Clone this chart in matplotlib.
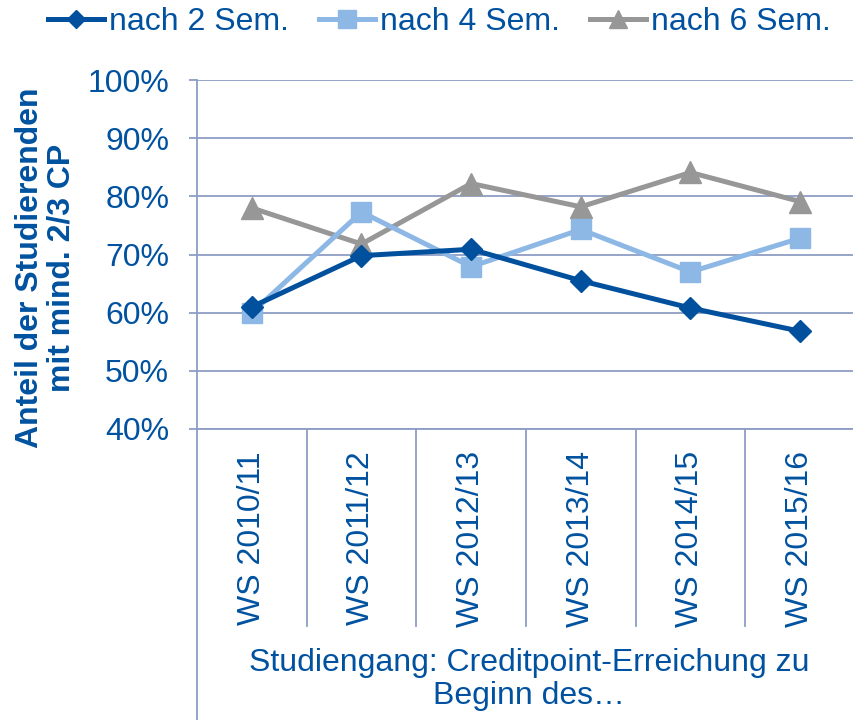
import matplotlib
matplotlib.use("Agg")
import matplotlib.pyplot as plt

plt.rcParams['font.family'] = ['Liberation Sans', 'DejaVu Sans']

categories = ["WS 2010/11", "WS 2011/12", "WS 2012/13", "WS 2013/14", "WS 2014/15", "WS 2015/16"]
nach2 = [61.0, 69.8, 70.9, 65.5, 60.8, 56.8]
nach4 = [60.0, 77.3, 67.9, 74.3, 67.0, 72.8]
nach6 = [78.0, 71.8, 82.2, 78.2, 84.1, 79.1]
yticks = [40, 50, 60, 70, 80, 90, 100]

TEXT = "#0052A0"
GRID = "#8E9DC5"
C2 = "#00509E"
C4 = "#8DB8E5"
C6 = "#979797"
FS = 23

W, H = 854, 720
fig = plt.figure(figsize=(W / 100, H / 100), dpi=100)
ax = fig.add_axes([197 / W, 1 - 429 / H, (855 - 197) / W, (429 - 80) / H])

x = [i + 0.5 for i in range(len(categories))]
ax.plot(x, nach2, color=C2, lw=3.6, marker="D", ms=11, label="nach 2 Sem.", zorder=4, clip_on=False)
ax.plot(x, nach4, color=C4, lw=3.6, marker="s", ms=14.5, label="nach 4 Sem.", zorder=3, clip_on=False)
ax.plot(x, nach6, color=C6, lw=3.6, marker="^", ms=15.5, label="nach 6 Sem.", zorder=2, clip_on=False)

ax.set_xlim(0, len(categories))
ax.set_ylim(40, 100)
ax.set_yticks(yticks)
ax.set_yticklabels([f"{v}%" for v in yticks])
ax.yaxis.grid(True, color=GRID, lw=1.3)
ax.set_axisbelow(True)
ax.set_xticks(x)
ax.set_xticklabels(categories, rotation=90, va="top", ha="center")
ax.tick_params(axis="x", length=0, pad=16, labelsize=FS, labelcolor=TEXT)
ax.tick_params(axis="y", length=6, width=1.3, color=GRID, pad=14, labelsize=FS, labelcolor=TEXT)

for s in ["top", "right", "bottom", "left"]:
    ax.spines[s].set_visible(False)

trans = ax.get_xaxis_transform()
# left axis line extending below
ax.plot([0, 0], [1, -(720 - 429) / 349], transform=trans, color=GRID, lw=1.3, clip_on=False, zorder=1)
# bottom line
ax.plot([0, len(categories)], [0, 0], transform=trans, color=GRID, lw=1.3, clip_on=False, zorder=1)
# category separators
for b in range(1, len(categories)):
    ax.plot([b, b], [0, -(626 - 429) / 349], transform=trans, color=GRID, lw=1.3, clip_on=False, zorder=1)

fig.text(46 / W, 1 - 268 / H, "Anteil der Studierenden\nmit mind. 2/3 CP", rotation=90,
         ha="center", va="center", fontsize=FS, fontweight="bold", color=TEXT,
         multialignment="center", linespacing=1.05)

fig.text(529 / W, 1 - 648 / H, "Studiengang: Creditpoint-Erreichung zu\nBeginn des…",
         ha="center", va="top", fontsize=FS, color=TEXT, multialignment="center", linespacing=1.15)

leg = fig.legend(loc="center left", bbox_to_anchor=(48 / W, 1 - 22 / H), ncol=3, frameon=False,
                 fontsize=FS, handlelength=1.75, handletextpad=0.15, columnspacing=0.95,
                 borderaxespad=0, borderpad=0, markerscale=0.85)
for t in leg.get_texts():
    t.set_color(TEXT)

fig.savefig("out.png", dpi=100)
